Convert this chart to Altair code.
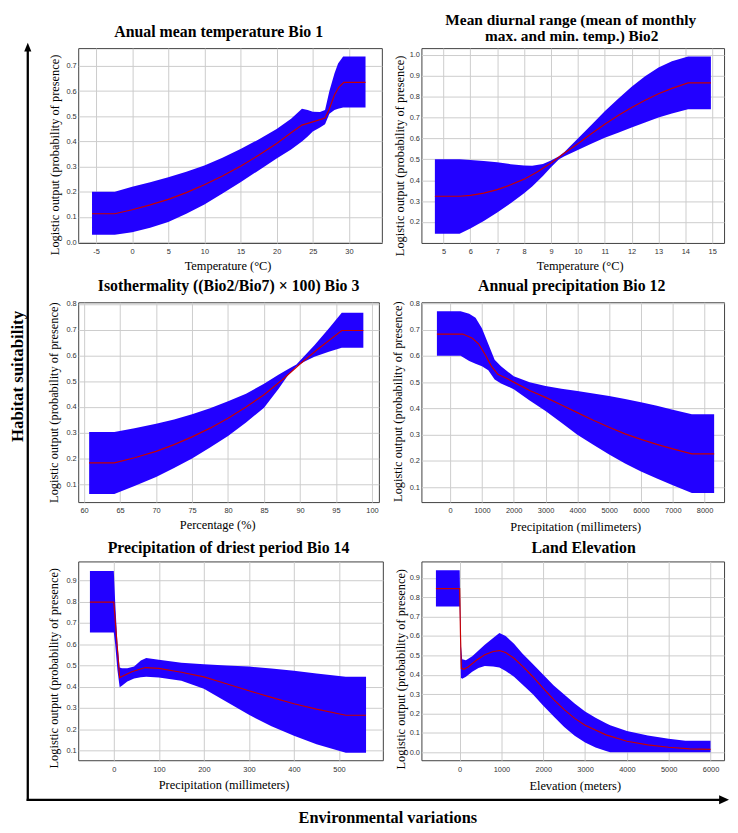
import altair as alt
import pandas as pd

# ---------------- data ----------------
YTITLE = "Logistic output (probability of presence)"

# Panel 1: Bio 1
bio1_titles = ["Anual mean temperature Bio 1"]
bio1_xlabel = "Temperature (°C)"
bio1_xticks = [-5, 0, 5, 10, 15, 20, 25, 30]
bio1_yticks = [0.0, 0.1, 0.2, 0.3, 0.4, 0.5, 0.6, 0.7]
bio1_band_x = [-5.55, -2.4, 0, 2.5, 5, 7.5, 10, 12.5, 15, 17.5, 20, 22, 23.5, 24.3, 25, 26, 26.7, 27.3, 28, 28.5, 29.2, 32.3]
bio1_band_hi = [0.2, 0.2, 0.22, 0.238, 0.258, 0.28, 0.305, 0.335, 0.37, 0.408, 0.45, 0.49, 0.53, 0.525, 0.518, 0.517, 0.525, 0.6, 0.67, 0.71, 0.737, 0.737]
bio1_band_lo = [0.03, 0.03, 0.04, 0.057, 0.08, 0.113, 0.15, 0.193, 0.238, 0.285, 0.332, 0.368, 0.40, 0.42, 0.44, 0.455, 0.468, 0.51, 0.525, 0.53, 0.535, 0.535]
bio1_mean_x = [-5.55, -2.4, 0, 2.5, 5, 7.5, 10, 12.5, 15, 17.5, 20, 22, 23.5, 25, 26.7, 27.3, 28, 28.6, 29.3, 32.3]
bio1_mean_y = [0.113, 0.113, 0.129, 0.148, 0.17, 0.197, 0.228, 0.263, 0.302, 0.345, 0.392, 0.435, 0.465, 0.478, 0.493, 0.53, 0.585, 0.615, 0.635, 0.635]

# Panel 2: Bio 2
bio2_titles = ["Mean diurnal range (mean of monthly", "max. and min. temp.) Bio2"]
bio2_xlabel = "Temperature (°C)"
bio2_xticks = [5, 6, 7, 8, 9, 10, 11, 12, 13, 14, 15]
bio2_yticks = [0.2, 0.3, 0.4, 0.5, 0.6, 0.7, 0.8, 0.9, 1.0]
bio2_band_x = [4.68, 5.6, 6, 6.5, 7, 7.5, 8, 8.3, 8.7, 9, 9.3, 9.5, 10, 10.5, 11, 11.5, 12, 12.5, 13, 13.5, 14.1, 14.95]
bio2_band_hi = [0.5, 0.5, 0.497, 0.492, 0.486, 0.477, 0.47, 0.469, 0.478, 0.495, 0.515, 0.535, 0.6, 0.665, 0.73, 0.79, 0.848, 0.898, 0.94, 0.97, 0.993, 0.993]
bio2_band_lo = [0.143, 0.143, 0.168, 0.205, 0.245, 0.29, 0.338, 0.37, 0.42, 0.462, 0.5, 0.515, 0.545, 0.575, 0.603, 0.628, 0.652, 0.676, 0.7, 0.72, 0.74, 0.74]
bio2_mean_x = [4.68, 5.6, 6, 6.5, 7, 7.5, 8, 8.5, 9, 9.5, 10, 10.5, 11, 11.5, 12, 12.5, 13, 13.5, 14.1, 14.95]
bio2_mean_y = [0.323, 0.323, 0.327, 0.338, 0.355, 0.378, 0.405, 0.44, 0.482, 0.53, 0.575, 0.623, 0.668, 0.71, 0.748, 0.783, 0.814, 0.84, 0.866, 0.866]

# Panel 3: Bio 3
bio3_titles = ["Isothermality ((Bio2/Bio7) × 100) Bio 3"]
bio3_xlabel = "Percentage (%)"
bio3_xticks = [60, 65, 70, 75, 80, 85, 90, 95, 100]
bio3_yticks = [0.1, 0.2, 0.3, 0.4, 0.5, 0.6, 0.7, 0.8]
bio3_band_x = [60.7, 64.2, 67, 70, 72.5, 75, 77.5, 80, 82.5, 85, 87, 88.5, 89.5, 90.5, 92, 94, 95.8, 98.8]
bio3_band_hi = [0.303, 0.303, 0.318, 0.335, 0.352, 0.372, 0.395, 0.422, 0.452, 0.49, 0.525, 0.55, 0.565, 0.595, 0.64, 0.705, 0.766, 0.766]
bio3_band_lo = [0.062, 0.062, 0.093, 0.128, 0.163, 0.2, 0.243, 0.288, 0.34, 0.397, 0.47, 0.53, 0.557, 0.575, 0.595, 0.615, 0.63, 0.63]
bio3_mean_x = [60.7, 64.2, 67, 70, 72.5, 75, 77.5, 80, 82.5, 85, 87.5, 90, 92.5, 95.8, 98.8]
bio3_mean_y = [0.183, 0.183, 0.203, 0.228, 0.254, 0.284, 0.318, 0.356, 0.4, 0.448, 0.505, 0.567, 0.625, 0.697, 0.697]

# Panel 4: Bio 12
bio12_titles = ["Annual precipitation Bio 12"]
bio12_xlabel = "Precipitation (millimeters)"
bio12_xticks = [0, 1000, 2000, 3000, 4000, 5000, 6000, 7000, 8000]
bio12_yticks = [0.1, 0.2, 0.3, 0.4, 0.5, 0.6, 0.7, 0.8]
bio12_band_x = [-415, 330, 600, 800, 1000, 1200, 1400, 1600, 2000, 2500, 3000, 3500, 4000, 4500, 5000, 5500, 6000, 6500, 7000, 7600, 8300]
bio12_band_hi = [0.77, 0.77, 0.76, 0.745, 0.705, 0.645, 0.585, 0.56, 0.522, 0.5, 0.485, 0.475, 0.466, 0.457, 0.447, 0.436, 0.423, 0.41, 0.395, 0.378, 0.378]
bio12_band_lo = [0.6, 0.6, 0.58, 0.57, 0.56, 0.545, 0.51, 0.495, 0.473, 0.43, 0.39, 0.345, 0.3, 0.262, 0.225, 0.19, 0.16, 0.133, 0.108, 0.078, 0.078]
bio12_mean_x = [-415, 400, 700, 900, 1100, 1300, 1500, 1800, 2000, 2500, 3000, 3500, 4000, 4500, 5000, 5500, 6000, 6500, 7000, 7600, 8300]
bio12_mean_y = [0.683, 0.683, 0.667, 0.645, 0.605, 0.56, 0.53, 0.513, 0.5, 0.468, 0.442, 0.413, 0.384, 0.355, 0.328, 0.303, 0.282, 0.263, 0.246, 0.227, 0.227]

# Panel 5: Bio 14
bio14_titles = ["Precipitation of driest period Bio 14"]
bio14_xlabel = "Precipitation (millimeters)"
bio14_xticks = [0, 100, 200, 300, 400, 500]
bio14_yticks = [0.1, 0.2, 0.3, 0.4, 0.5, 0.6, 0.7, 0.8, 0.9]
bio14_band_x = [-53, 0, 3, 8, 13, 18, 30, 45, 60, 72, 100, 150, 200, 250, 300, 350, 400, 450, 515, 560]
bio14_band_hi = [0.943, 0.943, 0.8, 0.6, 0.49, 0.487, 0.487, 0.495, 0.523, 0.535, 0.527, 0.513, 0.505, 0.5, 0.495, 0.485, 0.475, 0.462, 0.447, 0.447]
bio14_band_lo = [0.655, 0.655, 0.6, 0.48, 0.397, 0.405, 0.425, 0.438, 0.445, 0.447, 0.443, 0.428, 0.39, 0.33, 0.268, 0.215, 0.17, 0.13, 0.09, 0.09]
bio14_mean_x = [-53, 0, 13, 40, 70, 100, 150, 200, 250, 300, 350, 400, 450, 515, 560]
bio14_mean_y = [0.797, 0.797, 0.443, 0.47, 0.49, 0.486, 0.468, 0.446, 0.414, 0.381, 0.35, 0.32, 0.295, 0.266, 0.266]

# Panel 6: Elevation
elev_titles = ["Land Elevation"]
elev_xlabel = "Elevation (meters)"
elev_xticks = [0, 1000, 2000, 3000, 4000, 5000, 6000]
elev_yticks = [0.0, 0.1, 0.2, 0.3, 0.4, 0.5, 0.6, 0.7, 0.8, 0.9]
elev_band_x = [-568, 0, 15, 30, 60, 150, 300, 450, 600, 800, 950, 1100, 1300, 1500, 1750, 2000, 2250, 2500, 2750, 3000, 3250, 3500, 3600, 4000, 4500, 5000, 5400, 6000]
elev_band_hi = [0.94, 0.94, 0.72, 0.55, 0.48, 0.475, 0.495, 0.525, 0.555, 0.59, 0.615, 0.6, 0.56, 0.51, 0.455, 0.4, 0.345, 0.298, 0.252, 0.21, 0.178, 0.15, 0.14, 0.11, 0.086, 0.07, 0.06, 0.06]
elev_band_lo = [0.752, 0.752, 0.6, 0.385, 0.38, 0.39, 0.415, 0.435, 0.445, 0.443, 0.437, 0.42, 0.39, 0.35, 0.3, 0.24, 0.185, 0.13, 0.085, 0.05, 0.025, 0.006, 0.0, 0.0, 0.0, 0.0, 0.0, 0.0]
elev_mean_x = [-568, 0, 20, 40, 100, 200, 400, 600, 800, 950, 1100, 1300, 1500, 1750, 2000, 2250, 2500, 2750, 3000, 3500, 4000, 4500, 5000, 5500, 6000]
elev_mean_y = [0.845, 0.845, 0.6, 0.433, 0.428, 0.44, 0.475, 0.503, 0.52, 0.525, 0.515, 0.485, 0.445, 0.39, 0.33, 0.272, 0.22, 0.175, 0.139, 0.09, 0.057, 0.038, 0.026, 0.018, 0.015]

frame_texts = ["Habitat suitability", "Environmental variations"]

# ---------------- style ----------------
SERIF = "Liberation Serif"
SANS = "Liberation Sans"
BAND_COLOR = "#2200ff"
LINE_COLOR = "#c80000"


def make_panel(band_x, band_hi, band_lo, mean_x, mean_y, xdom, ydom, xticks, yticks,
               xlabel, titles, title_pos, w, h, xt_x, xt_dy, yt_x, yt_dy, extra=(),
               title_size=16):
    band = pd.DataFrame({"x": band_x, "hi": band_hi, "lo": band_lo})
    mean = pd.DataFrame({"x": mean_x, "y": mean_y})
    xs = alt.Scale(domain=xdom, nice=False, zero=False)
    ys = alt.Scale(domain=ydom, nice=False, zero=False)
    xax = alt.Axis(values=xticks, title=xlabel, labelExpr="'' + datum.value",
                   titleX=xt_x, titleY=xt_dy, titleBaseline="alphabetic",
                   titleAlign="center")
    yax = alt.Axis(values=yticks, title=YTITLE, format=".1f",
                   titleX=yt_x, titleY=h / 2 + yt_dy, titleBaseline="alphabetic",
                   titleAngle=270, titleAlign="center")
    area = alt.Chart(band).mark_area(color=BAND_COLOR, opacity=1).encode(
        x=alt.X("x:Q", scale=xs, axis=xax),
        y=alt.Y("hi:Q", scale=ys, axis=yax),
        y2=alt.Y2("lo:Q"),
    )
    line = alt.Chart(mean).mark_line(color=LINE_COLOR, strokeWidth=1.2).encode(
        x=alt.X("x:Q", scale=xs, axis=xax),
        y=alt.Y("y:Q", scale=ys, axis=yax),
    )
    layers = [area, line]
    for text, (tx, ty) in zip(titles, title_pos):
        layers.append(
            alt.Chart(pd.DataFrame({"t": [text]})).mark_text(
                font=SERIF, fontSize=title_size, fontWeight="bold", color="black",
                align="center", baseline="alphabetic",
            ).encode(x=alt.value(tx), y=alt.value(ty), text="t:N")
        )
    layers.extend(extra)
    return alt.layer(*layers).properties(width=w, height=h)


# outer frame decorations
deco = pd.DataFrame({"k": [0]})
habitat = alt.Chart(pd.DataFrame({"t": [frame_texts[0]]})).mark_text(
    font=SERIF, fontSize=17, fontWeight="bold", color="black", angle=270,
    align="center", baseline="alphabetic",
).encode(x=alt.value(-56), y=alt.value(75), text="t:N")

env = alt.Chart(pd.DataFrame({"t": [frame_texts[1]]})).mark_text(
    font=SERIF, fontSize=16.5, fontWeight="bold", color="black",
    align="center", baseline="alphabetic",
).encode(x=alt.value(313), y=alt.value(264), text="t:N")

vline = alt.Chart(deco).mark_rule(color="black", strokeWidth=2.3, strokeCap="square").encode(
    x=alt.value(-51), y=alt.value(-516), y2=alt.value(241))
hline = alt.Chart(deco).mark_rule(color="black", strokeWidth=2.3, strokeCap="square").encode(
    x=alt.value(-51), x2=alt.value(649), y=alt.value(241))
vhead = alt.Chart(deco).mark_point(shape="M-0.8,1L0,-1L0.8,1Z", filled=True, color="black",
                                   opacity=1, size=81, strokeWidth=0).encode(
    x=alt.value(-51), y=alt.value(-520))
hhead = alt.Chart(deco).mark_point(shape="M-1,-0.9L1,0L-1,0.9Z", filled=True, color="black",
                                   opacity=1, size=100, strokeWidth=0).encode(
    x=alt.value(653), y=alt.value(241))

p1 = make_panel(bio1_band_x, bio1_band_hi, bio1_band_lo, bio1_mean_x, bio1_mean_y,
                [-7.46, 34.56], [-0.003, 0.7707], bio1_xticks, bio1_yticks,
                bio1_xlabel, bio1_titles, [(142, -11)], 307, 197, 151, 26.5, -19.5, 9)
p2 = make_panel(bio2_band_x, bio2_band_hi, bio2_band_lo, bio2_mean_x, bio2_mean_y,
                [4.179, 15.44], [0.0993, 1.033], bio2_xticks, bio2_yticks,
                bio2_xlabel, bio2_titles, [(151, -23), (152, -7)], 306, 197, 160, 26.5, -18, 10,
                title_size=15.5)
p3 = make_panel(bio3_band_x, bio3_band_hi, bio3_band_lo, bio3_mean_x, bio3_mean_y,
                [59.18, 100.96], [0.031, 0.8065], bio3_xticks, bio3_yticks,
                bio3_xlabel, bio3_titles, [(152, -11)], 304, 202, 140.5, 27, -20.5, 0,
                extra=[habitat])
p4 = make_panel(bio12_band_x, bio12_band_hi, bio12_band_lo, bio12_mean_x, bio12_mean_y,
                [-902, 8612], [0.0435, 0.8038], bio12_xticks, bio12_yticks,
                bio12_xlabel, bio12_titles, [(152, -11)], 306, 202, 155.5, 29, -20.5, -1)
p5 = make_panel(bio14_band_x, bio14_band_hi, bio14_band_lo, bio14_mean_x, bio14_mean_y,
                [-79, 597.3], [0.055, 0.988], bio14_xticks, bio14_yticks,
                bio14_xlabel, bio14_titles, [(152, -9)], 308, 201, 147, 29, -20.5, 7,
                extra=[vline, hline, vhead, hhead, env])
p6 = make_panel(elev_band_x, elev_band_hi, elev_band_lo, elev_mean_x, elev_mean_y,
                [-915, 6324], [-0.041, 0.985], elev_xticks, elev_yticks,
                elev_xlabel, elev_titles, [(164, -9)], 306, 201, 155, 30, -17, 8)

chart = (
    alt.concat(p1, p2, p3, p4, p5, p6, columns=2,
               spacing=alt.RowColnumber(row=60, column=39), bounds="flush")
    .properties(padding=0, background="white")
    .configure_view(stroke="#404040", strokeWidth=1, fill="white")
    .configure_axis(
        grid=True, gridColor="#cccccc", gridWidth=1, domain=False, ticks=False, tickSize=0,
        labelFont=SANS, labelFontSize=7.5, labelColor="#333333", labelOverlap=False,
        labelFlush=False,
        titleFont=SERIF, titleFontSize=12.5, titleFontWeight="normal", titleColor="black",
    )
    .configure_axisX(labelPadding=9, labelBaseline="middle")
    .configure_axisY(labelPadding=2)
)

chart.save("out.html", embed_options={"renderer": "svg", "actions": False})
